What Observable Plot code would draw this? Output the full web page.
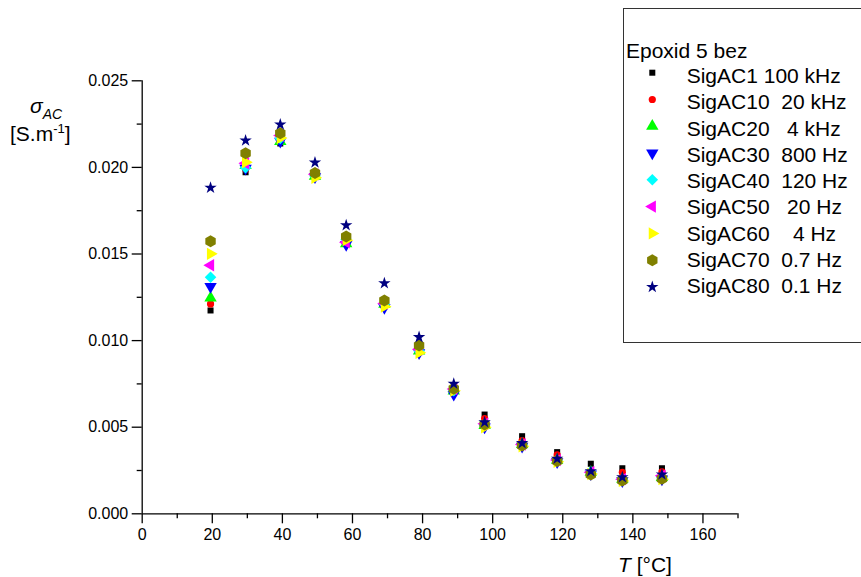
<!DOCTYPE html>
<html>
<head>
<meta charset="utf-8">
<script src="https://cdn.jsdelivr.net/npm/d3@7"></script>
<script src="https://cdn.jsdelivr.net/npm/@observablehq/plot@0.6"></script>
<style>
  html, body { margin: 0; padding: 0; background: #fff; }
  #chart { width: 861px; height: 577px; }
  text { font-family: "Liberation Sans", Arial, sans-serif; }
</style>
</head>
<body>
<div id="chart"></div>
<script>
// ---------- data ----------
const temps = [19.5, 29.5, 39.4, 49.3, 58.2, 69.1, 79.0, 88.9, 97.7, 108.4, 118.4, 128.0, 137.0, 148.3];

const seriesNames = ["SigAC1", "SigAC10", "SigAC20", "SigAC30", "SigAC40", "SigAC50", "SigAC60", "SigAC70", "SigAC80"];
const freqLabels = ["100 kHz", "20 kHz", "4 kHz", "800 Hz", "120 Hz", "20 Hz", "4 Hz", "0.7 Hz", "0.1 Hz"];
const legendTitle = "Epoxid 5 bez";

const sigAC1  = [0.01174, 0.01972, 0.02138, 0.01945, 0.01580, 0.01214, 0.00940, 0.00730, 0.00573, 0.00448, 0.00356, 0.00289, 0.00263, 0.00263];
const sigAC10 = [0.01212, 0.01990, 0.02150, 0.01950, 0.01570, 0.01210, 0.00940, 0.00720, 0.00550, 0.00423, 0.00340, 0.00240, 0.00240, 0.00242];
const sigAC20 = [0.01247, 0.02011, 0.02150, 0.01950, 0.01560, 0.01210, 0.00940, 0.00710, 0.00510, 0.00400, 0.00310, 0.00240, 0.00200, 0.00210];
const sigAC30 = [0.01312, 0.01994, 0.02150, 0.01945, 0.01555, 0.01191, 0.00930, 0.00689, 0.00500, 0.00390, 0.00300, 0.00230, 0.00190, 0.00200];
const sigAC40 = [0.01366, 0.01998, 0.02167, 0.01950, 0.01584, 0.01210, 0.00940, 0.00710, 0.00510, 0.00400, 0.00310, 0.00240, 0.00200, 0.00210];
const sigAC50 = [0.01435, 0.02024, 0.02184, 0.01960, 0.01568, 0.01214, 0.00950, 0.00720, 0.00520, 0.00400, 0.00310, 0.00240, 0.00200, 0.00220];
const sigAC60 = [0.01501, 0.02030, 0.02170, 0.01940, 0.01580, 0.01197, 0.00930, 0.00710, 0.00500, 0.00390, 0.00300, 0.00230, 0.00190, 0.00200];
const sigAC70 = [0.01574, 0.02082, 0.02197, 0.01967, 0.01601, 0.01232, 0.00972, 0.00722, 0.00516, 0.00394, 0.00305, 0.00227, 0.00192, 0.00202];
const sigAC80 = [0.01883, 0.02155, 0.02248, 0.02028, 0.01666, 0.01331, 0.01020, 0.00751, 0.00529, 0.00408, 0.00318, 0.00246, 0.00211, 0.00227];

const xTicks = [0, 20, 40, 60, 80, 100, 120, 140, 160];
const xMinorTicks = [10, 30, 50, 70, 90, 110, 130, 150, 170];
const yTicks = [0, 0.005, 0.010, 0.015, 0.020, 0.025];
const yMinorTicks = [0.0025, 0.0075, 0.0125, 0.0175, 0.0225];

// ---------- styles ----------
const seriesValues = [sigAC1, sigAC10, sigAC20, sigAC30, sigAC40, sigAC50, sigAC60, sigAC70, sigAC80];
const colors  = ["#000000", "#ff0000", "#00ff00", "#0000ff", "#00ffff", "#ff00ff", "#ffff00", "#808000", "#000080"];
const symbols = ["square", "circle", "triangle", "triangle", "diamond2", "triangle", "triangle", "hexagon", "star"];
const rotations = [0, 0, 0, 180, 0, -90, 90, 0, 0];
const radii = [3.4, 3.6, 4.6, 4.6, 5.2, 4.6, 4.6, 5.2, 3.9];
const legendGaps = [1, 2, 3, 2, 2, 3, 4, 2, 2];

const rows = seriesValues.map((vals, i) => vals.map((v, j) => ({T: temps[j], sigma: v, series: seriesNames[i]})));

const W = 861, H = 577;
const mL = 141.7, mR = 123.5, mT = 80.3, mB = 63.7;
const FONT = "'Liberation Sans', Arial, sans-serif";

const dotMarks = rows.map((data, i) => Plot.dot(data, {
  x: "T", y: "sigma",
  symbol: symbols[i], fill: colors[i], stroke: "none",
  r: radii[i], rotate: rotations[i]
}));

const chart = Plot.plot({
  width: W, height: H,
  marginLeft: mL, marginRight: mR, marginTop: mT, marginBottom: mB,
  style: {fontFamily: FONT, fontSize: "16px", color: "#000", background: "#fff", overflow: "visible"},
  x: {domain: [0, 170]},
  y: {domain: [0, 0.025]},
  marks: [
    Plot.axisX({ticks: xTicks, tickSize: 10, tickPadding: 5, tickFormat: d => String(d), strokeWidth: 1.3, label: null, fontSize: 16}),
    Plot.axisX({ticks: xMinorTicks, tickSize: 5, fill: "none", strokeWidth: 1.3, label: null}),
    Plot.axisY({ticks: yTicks, tickSize: 10, tickPadding: 4, tickFormat: d3.format(".3f"), strokeWidth: 1.3, label: null, fontSize: 16}),
    Plot.axisY({ticks: yMinorTicks, tickSize: 5, fill: "none", strokeWidth: 1.3, label: null}),
    Plot.ruleY([0], {strokeWidth: 1.3}),
    Plot.ruleX([0], {strokeWidth: 1.3}),
    ...dotMarks
  ]
});

document.getElementById("chart").appendChild(chart);

// ---------- titles & legend (drawn into the same SVG) ----------
const svg = d3.select(chart);
const txt = (sel) => sel.attr("font-family", FONT).attr("fill", "#000").attr("text-anchor", "start");

// y title
const yt1 = txt(svg.append("text")).attr("x", 30).attr("y", 113)
  .attr("font-size", 21).attr("font-style", "italic");
yt1.append("tspan").text("σ");
yt1.append("tspan").attr("dy", 6).attr("font-size", 14).text("AC");

const yt2 = txt(svg.append("text")).attr("x", 10).attr("y", 141).attr("font-size", 21);
yt2.append("tspan").text("[S.m");
yt2.append("tspan").attr("dy", -8).attr("font-size", 13).text("-1");
yt2.append("tspan").attr("dy", 8).text("]");

// x title
const xt = txt(svg.append("text")).attr("x", 618).attr("y", 572).attr("font-size", 21);
xt.append("tspan").attr("font-style", "italic").text("T");
xt.append("tspan").text(" [°C]");

// legend
const lg = svg.append("g");
lg.append("rect").attr("x", 623.5).attr("y", 8.5).attr("width", 260).attr("height", 334)
  .attr("fill", "#fff").attr("stroke", "#333").attr("stroke-width", 1);
txt(lg.append("text")).attr("x", 626).attr("y", 57.5).attr("font-size", 21).text(legendTitle);

const plotHexagon = {
  draw(context, size) {
    const rx = Math.sqrt(size / Math.PI), ry = rx * 2 / Math.sqrt(3), hy = ry / 2;
    context.moveTo(0, ry); context.lineTo(rx, hy); context.lineTo(rx, -hy);
    context.lineTo(0, -ry); context.lineTo(-rx, -hy); context.lineTo(-rx, hy); context.closePath();
  }
};
const d3Symbols = {square: d3.symbolSquare, circle: d3.symbolCircle, triangle: d3.symbolTriangle,
  diamond2: d3.symbolDiamond2, hexagon: plotHexagon, star: d3.symbolStar};

seriesNames.forEach((name, i) => {
  const sy = 72.7 + i * 26.78;
  const ty = 75.7 + i * 26.25 + 7.5;
  lg.append("path")
    .attr("d", d3.symbol(d3Symbols[symbols[i]], radii[i] * radii[i] * Math.PI)())
    .attr("transform", `translate(652.3,${sy}) rotate(${rotations[i]})`)
    .attr("fill", colors[i]);
  txt(lg.append("text")).attr("x", 686.7).attr("y", ty).attr("font-size", 21)
    .style("white-space", "pre")
    .text(name + " ".repeat(legendGaps[i]) + freqLabels[i]);
});
</script>
</body>
</html>
